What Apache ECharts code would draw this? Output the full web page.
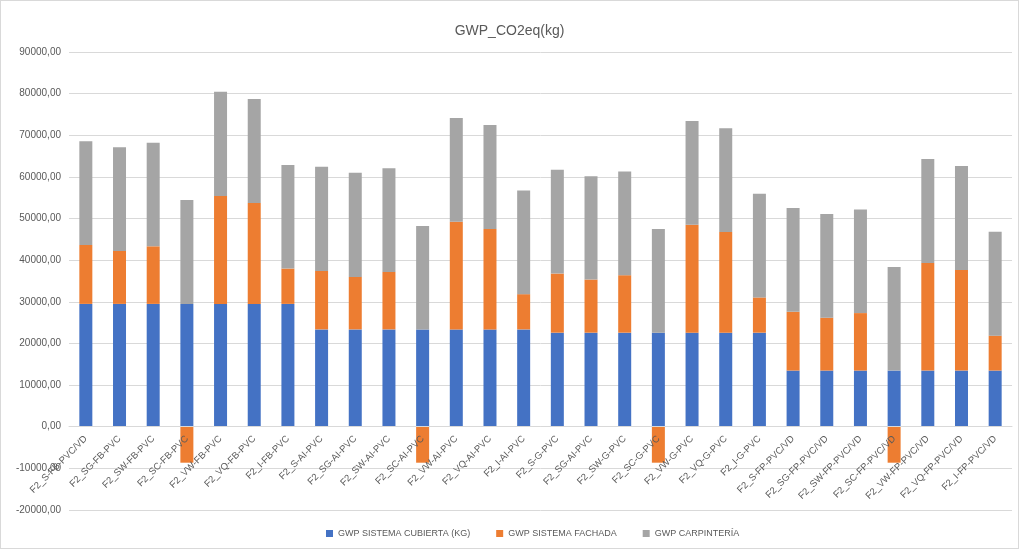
<!DOCTYPE html>
<html>
<head>
<meta charset="utf-8">
<script src="https://cdn.jsdelivr.net/npm/echarts@6/dist/echarts.min.js"></script>
<style>
html,body{margin:0;padding:0;background:#fff;}
#c{width:1017px;height:547px;border:1px solid #d9d9d9;}
</style>
</head>
<body>
<div id="c"></div>
<script>
const categories = [
  "F2_S-FB-PVC/VD","F2_SG-FB-PVC","F2_SW-FB-PVC","F2_SC-FB-PVC","F2_VW-FB-PVC","F2_VQ-FB-PVC","F2_I-FB-PVC",
  "F2_S-AI-PVC","F2_SG-AI-PVC","F2_SW-AI-PVC","F2_SC-AI-PVC","F2_VW-AI-PVC","F2_VQ-AI-PVC","F2_I-AI-PVC",
  "F2_S-G-PVC","F2_SG-AI-PVC","F2_SW-G-PVC","F2_SC-G-PVC","F2_VW-G-PVC","F2_VQ-G-PVC","F2_I-G-PVC",
  "F2_S-FP-PVC/VD","F2_SG-FP-PVC/VD","F2_SW-FP-PVC/VD","F2_SC-FP-PVC/VD","F2_VW-FP-PVC/VD","F2_VQ-FP-PVC/VD","F2_I-FP-PVC/VD"
];
const cubierta = [
  29500,29500,29500,29500,29500,29500,29500,
  23380,23380,23380,23380,23380,23380,23380,
  22590,22590,22590,22590,22590,22590,22590,
  13490,13490,13490,13490,13490,13490,13490
];
const fachada = [
  14150,12720,13830,-8640,25890,24210,8490,
  14050,12610,13810,-8640,25860,24110,8460,
  14200,12760,13800,-8640,25930,24180,8460,
  14120,12690,13800,-8640,25860,24180,8380
];
const carpinteria = [
  24900,24900,24900,24930,25060,24980,24900,
  24980,24980,24900,24820,24900,24980,24900,
  24900,24830,24900,24900,24900,24900,24900,
  24900,24900,24900,24900,24980,24980,24980
];
const seriesNames = ["GWP SISTEMA CUBIERTA (KG)","GWP SISTEMA FACHADA","GWP CARPINTERÍA"];
const colors = ["#4472C4","#ED7D31","#A5A5A5"];

const chart = echarts.init(document.getElementById('c'));
const txt = '#595959';
const font = "'Liberation Sans', Arial, sans-serif";
chart.setOption({
  animation: false,
  color: colors,
  title: {
    text: 'GWP_CO2eq(kg)', left: 'center', top: 18,
    textStyle: {fontSize: 14, fontWeight: 'normal', color: txt, fontFamily: font}
  },
  legend: {
    bottom: 5, left: 320, icon: 'rect', itemWidth: 7, itemHeight: 7, itemGap: 26, itemStyle: {borderWidth: 0},
    textStyle: {fontSize: 9, color: txt, fontFamily: font},
    data: seriesNames
  },
  grid: {left: 68, right: 6, top: 51, bottom: 38, outerBoundsMode: 'none', containLabel: false},
  xAxis: {
    type: 'category', data: categories, z: 5,
    offset: -83.6,
    axisLine: {onZero: false, lineStyle: {color: '#d9d9d9'}},
    axisTick: {show: false},
    axisLabel: {interval: 0, rotate: 45, fontSize: 9.5, color: txt, fontFamily: font, margin: 11, hideOverlap: false}
  },
  yAxis: {
    type: 'value', min: -20000, max: 90000, interval: 10000,
    axisLine: {show: false}, axisTick: {show: false},
    splitLine: {lineStyle: {color: '#d9d9d9'}},
    axisLabel: {fontSize: 10, color: txt, fontFamily: font, margin: 8,
      formatter: v => v.toFixed(2).replace('.', ',')}
  },
  series: [
    {name: seriesNames[0], type: 'bar', stack: 't', data: cubierta, barWidth: 13},
    {name: seriesNames[1], type: 'bar', stack: 't', data: fachada, barWidth: 13},
    {name: seriesNames[2], type: 'bar', stack: 't', data: carpinteria, barWidth: 13}
  ]
});
</script>
</body>
</html>
